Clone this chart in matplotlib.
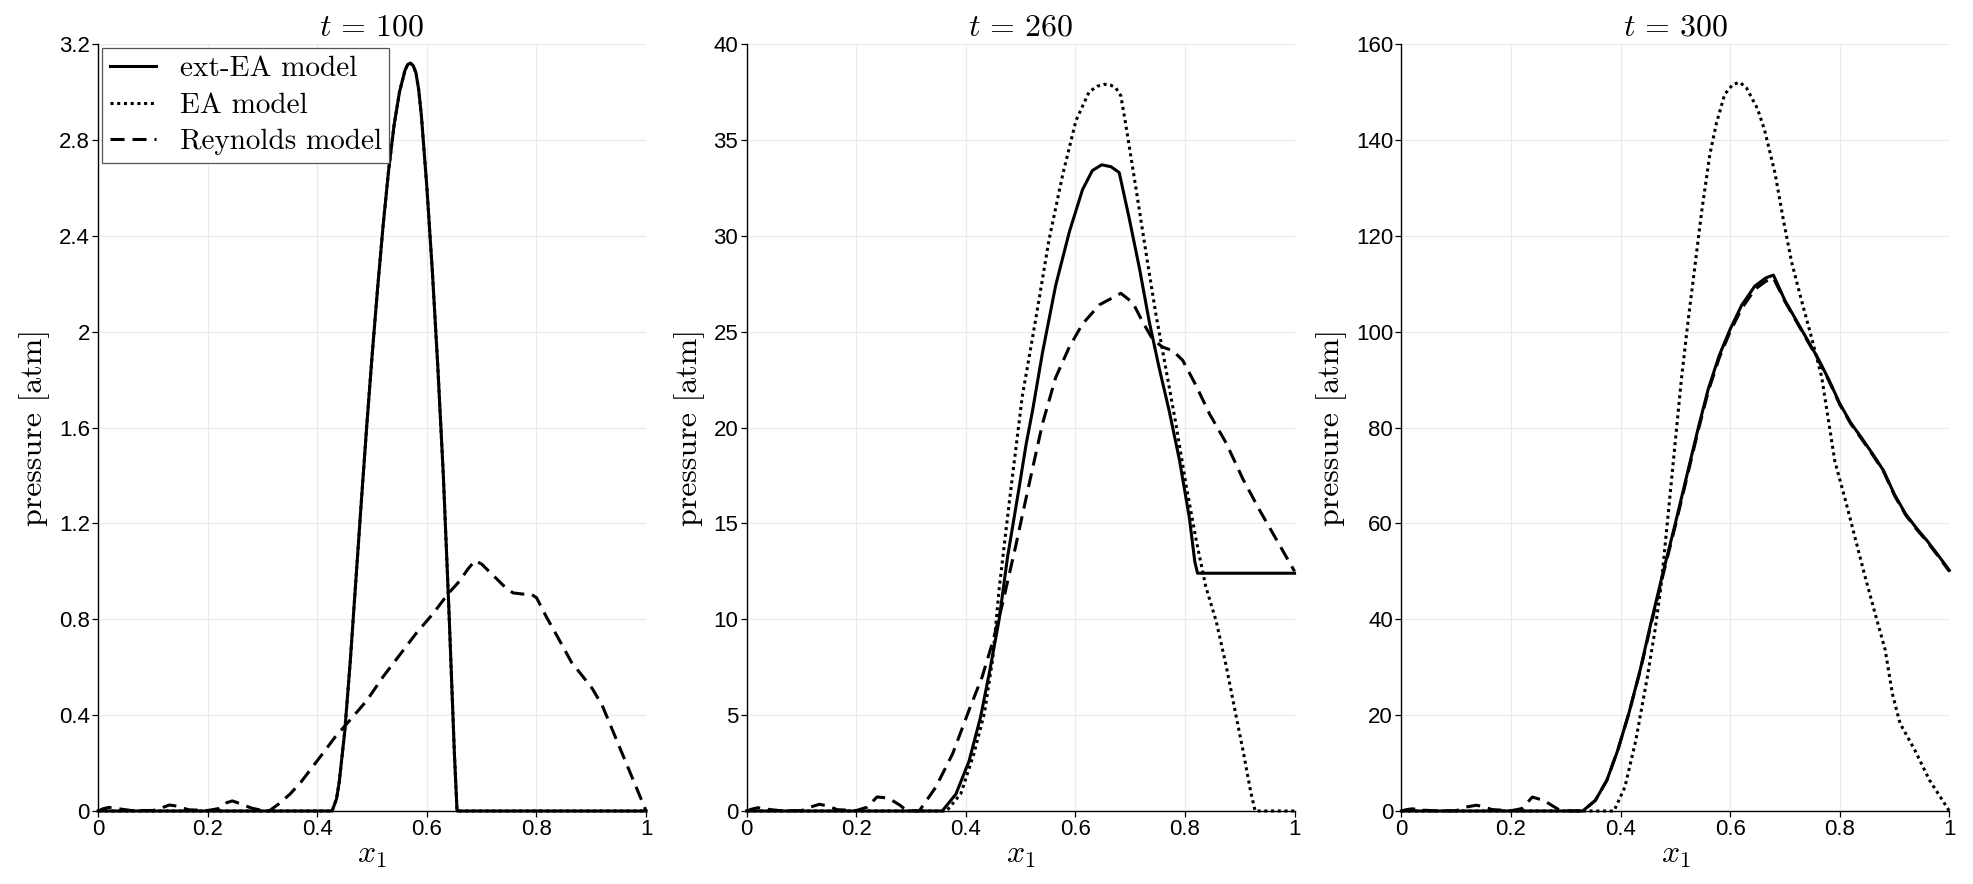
import matplotlib
matplotlib.use("Agg")
import matplotlib.pyplot as plt
from matplotlib.ticker import FuncFormatter

plt.rcParams['mathtext.fontset'] = 'cm'
plt.rcParams['font.family'] = ['Liberation Sans', 'DejaVu Sans']

# ---------------- data ----------------
titles = [r"$t\,=\,100$", r"$t\,=\,260$", r"$t\,=\,300$"]
labels = ["ext-EA model", "EA model", "Reynolds model"]
ylims = [3.2, 40, 160]
yticks = [[0, 0.4, 0.8, 1.2, 1.6, 2.0, 2.4, 2.8, 3.2],
          [0, 5, 10, 15, 20, 25, 30, 35, 40],
          [0, 20, 40, 60, 80, 100, 120, 140, 160]]
xticks = [0, 0.2, 0.4, 0.6, 0.8, 1.0]

# t = 100
ext100_x = [0, 0.427, 0.435, 0.44, 0.45, 0.46, 0.47, 0.48, 0.49, 0.50, 0.51, 0.52, 0.53,
            0.54, 0.55, 0.56, 0.565, 0.57, 0.575, 0.58, 0.585, 0.59, 0.60, 0.61, 0.62,
            0.63, 0.64, 0.645, 0.65, 0.655, 1.0]
ext100_y = [0, 0, 0.05, 0.12, 0.33, 0.62, 0.95, 1.28, 1.6, 1.9, 2.18, 2.44, 2.67,
            2.86, 3.0, 3.09, 3.115, 3.12, 3.11, 3.08, 3.01, 2.9, 2.6, 2.25, 1.85,
            1.4, 0.85, 0.55, 0.25, 0, 0]
ea100_x = [0, 0.427, 0.435, 0.44, 0.45, 0.46, 0.47, 0.48, 0.49, 0.50, 0.51, 0.52, 0.53,
           0.54, 0.55, 0.56, 0.565, 0.57, 0.575, 0.58, 0.585, 0.59, 0.60, 0.61, 0.62,
           0.63, 0.64, 0.645, 0.65, 0.655, 1.0]
ea100_y = [0, 0, 0.05, 0.12, 0.33, 0.62, 0.95, 1.28, 1.6, 1.9, 2.18, 2.44, 2.67,
           2.86, 3.0, 3.09, 3.115, 3.12, 3.11, 3.08, 3.01, 2.9, 2.6, 2.25, 1.85,
           1.4, 0.85, 0.55, 0.25, 0, 0]
rey100_x = [0, 0.01, 0.02, 0.035, 0.06, 0.1, 0.115, 0.13, 0.145, 0.165, 0.2, 0.22, 0.235,
            0.245, 0.26, 0.28, 0.3, 0.312, 0.33, 0.35, 0.37, 0.39, 0.41, 0.433, 0.46, 0.49,
            0.52, 0.55, 0.58, 0.61, 0.64, 0.66, 0.675, 0.688, 0.70, 0.72, 0.74, 0.757, 0.775,
            0.79, 0.80, 0.818, 0.84, 0.864, 0.885, 0.902, 0.92, 0.94, 0.96, 0.98, 1.0]
rey100_y = [0, 0.01, 0.015, 0.01, 0.002, 0.002, 0.012, 0.025, 0.02, 0.005, 0.002, 0.01, 0.035,
            0.042, 0.03, 0.012, 0.002, 0, 0.03, 0.07, 0.12, 0.18, 0.24, 0.31, 0.38, 0.46,
            0.56, 0.65, 0.74, 0.82, 0.91, 0.96, 1.01, 1.045, 1.03, 0.985, 0.94, 0.91, 0.905,
            0.905, 0.89, 0.81, 0.72, 0.62, 0.56, 0.51, 0.44, 0.33, 0.22, 0.11, 0]

# t = 260
ext260_x = [0, 0.357, 0.382, 0.406, 0.427, 0.443, 0.461, 0.476, 0.497, 0.51, 0.522, 0.54,
            0.564, 0.589, 0.613, 0.631, 0.648, 0.665, 0.68, 0.698, 0.717, 0.735, 0.753,
            0.771, 0.79, 0.808, 0.818, 0.823, 1.0]
ext260_y = [0, 0, 0.88, 2.6, 4.9, 7.2, 10.0, 13.2, 16.8, 19.1, 20.9, 23.9,
            27.4, 30.2, 32.4, 33.4, 33.7, 33.6, 33.3, 30.95, 28.3, 25.5, 23.1,
            20.9, 18.3, 15.3, 13.0, 12.4, 12.4]
ea260_x = [0, 0.365, 0.391, 0.415, 0.434, 0.449, 0.461, 0.479, 0.503, 0.528, 0.552, 0.577,
           0.601, 0.625, 0.64, 0.653, 0.665, 0.674, 0.683, 0.692, 0.711, 0.729, 0.747,
           0.765, 0.784, 0.802, 0.82, 0.838, 0.857, 0.875, 0.893, 0.907, 0.92, 0.928, 1.0]
ea260_y = [0, 0, 0.9, 3.0, 5.1, 7.9, 11.6, 16.0, 21.6, 25.7, 29.8, 33.2,
           36.0, 37.5, 37.8, 37.9, 37.85, 37.7, 37.3, 35.8, 32.4, 29.1, 25.9,
           23.1, 20.1, 17.0, 14.2, 11.7, 9.9, 7.6, 5.0, 3.0, 1.0, 0, 0]
rey260_x = [0, 0.01, 0.021, 0.035, 0.06, 0.1, 0.116, 0.133, 0.15, 0.165, 0.2, 0.22, 0.238,
            0.25, 0.263, 0.28, 0.29, 0.3, 0.315, 0.345, 0.376, 0.406, 0.43, 0.449, 0.467,
            0.491, 0.516, 0.54, 0.564, 0.589, 0.613, 0.644, 0.683, 0.705, 0.723, 0.741,
            0.759, 0.778, 0.796, 0.82, 0.845, 0.875, 0.906, 0.936, 0.966, 1.0]
rey260_y = [0, 0.1, 0.17, 0.1, 0.02, 0.02, 0.2, 0.35, 0.25, 0.07, 0.02, 0.2, 0.73,
            0.7, 0.6, 0.3, 0.07, 0.02, 0, 1.23, 2.98, 5.26, 7.0, 8.8, 10.8,
            13.8, 17.1, 20.2, 22.6, 24.2, 25.4, 26.4, 27.0, 26.5, 25.5, 24.6,
            24.2, 24.0, 23.5, 22.2, 20.7, 19.2, 17.3, 15.7, 14.2, 12.5]

# t = 300
ext300_x = [0, 0.331, 0.354, 0.375, 0.395, 0.415, 0.436, 0.455, 0.477, 0.50, 0.521, 0.542,
            0.56, 0.58, 0.60, 0.621, 0.645, 0.665, 0.679, 0.70, 0.72, 0.74, 0.76, 0.78,
            0.80, 0.82, 0.84, 0.86, 0.88, 0.90, 0.92, 0.94, 0.96, 0.98, 1.0]
ext300_y = [0, 0, 2.2, 6.4, 12.7, 20.3, 29.5, 39, 49.5, 60, 70, 80,
            88, 95, 100.5, 105.5, 109.5, 111.2, 111.8, 106.5, 102.5, 98.5, 94.5, 90.0,
            85.0, 81.0, 77.8, 74.5, 71.0, 66.0, 62.0, 59.0, 56.3, 53.3, 50.2]
ea300_x = [0, 0.388, 0.408, 0.428, 0.449, 0.463, 0.474, 0.487, 0.499, 0.511, 0.523, 0.535,
           0.548, 0.563, 0.575, 0.59, 0.605, 0.618, 0.63, 0.65, 0.663, 0.682, 0.697,
           0.712, 0.730, 0.749, 0.767, 0.779, 0.791, 0.810, 0.828, 0.846, 0.865, 0.883,
           0.896, 0.91, 0.937, 0.964, 1.0]
ea300_y = [0, 0, 5.0, 14.8, 28, 37.8, 47, 62, 76, 90, 102, 113,
           125, 137, 143.5, 149.5, 151.6, 152, 150.8, 146.5, 142.0, 133, 123.4,
           114.6, 106.6, 98.6, 90.6, 81.8, 73, 65, 57, 49, 41, 33.6,
           24.5, 18.3, 12.7, 6.4, 0]
rey300_x = [0, 0.01, 0.02, 0.035, 0.06, 0.1, 0.117, 0.137, 0.15, 0.165, 0.2, 0.22, 0.239,
            0.26, 0.287, 0.3, 0.331, 0.354, 0.375, 0.395, 0.415, 0.436, 0.455, 0.477, 0.50,
            0.521, 0.542, 0.56, 0.58, 0.60, 0.621, 0.645, 0.665, 0.679, 0.70, 0.72, 0.74,
            0.76, 0.78, 0.80, 0.82, 0.84, 0.86, 0.88, 0.90, 0.92, 0.94, 0.96, 0.98, 1.0]
rey300_y = [0, 0.3, 0.45, 0.2, 0.05, 0.05, 0.8, 1.2, 0.9, 0.3, 0.05, 0.5, 2.9,
            2.2, 0.3, 0.05, 0, 2.2, 6.4, 12.7, 20.3, 29.3, 38.6, 49, 59.5,
            69.5, 79.5, 87.5, 94.5, 100, 104.8, 108.8, 110.5, 111.2, 106.3, 102.3, 98.3,
            94.3, 89.8, 84.8, 80.8, 77.6, 74.3, 70.8, 65.8, 61.8, 58.8, 56.1, 53.1, 50.0]

panels = [
    (ext100_x, ext100_y, ea100_x, ea100_y, rey100_x, rey100_y),
    (ext260_x, ext260_y, ea260_x, ea260_y, rey260_x, rey260_y),
    (ext300_x, ext300_y, ea300_x, ea300_y, rey300_x, rey300_y),
]

# ---------------- figure ----------------
fig = plt.figure(figsize=(19.74, 8.84), dpi=100)
lefts = [0.0497, 0.3782, 0.7099]
w, b, h = 0.2776, 0.0826, 0.8676

lw = 2.2
fmt = FuncFormatter(lambda v, p: ('%g' % round(v, 6)))

for i, (ex, ey, ax_, ay, rx, ry) in enumerate(panels):
    ax = fig.add_axes([lefts[i], b, w, h])
    ax.set_axisbelow(True)
    ax.grid(True, color='#ebebeb', lw=0.9)
    ax.plot(ex, ey, color='black', lw=lw, ls='-', label=labels[0],
            solid_joinstyle='round', clip_on=False, zorder=3)
    ax.plot(ax_, ay, color='black', lw=lw, ls=(0, (1.0, 1.2)), label=labels[1],
            clip_on=False, zorder=3)
    ax.plot(rx, ry, color='black', lw=lw, ls=(0, (4.6, 2.6)), label=labels[2],
            clip_on=False, zorder=3)
    ax.set_xlim(0, 1)
    ax.set_ylim(0, ylims[i])
    ax.set_xticks(xticks)
    ax.set_yticks(yticks[i])
    ax.xaxis.set_major_formatter(fmt)
    ax.yaxis.set_major_formatter(fmt)
    for s in ['top', 'right']:
        ax.spines[s].set_visible(False)
    for s in ['left', 'bottom']:
        ax.spines[s].set_linewidth(1.0)
        ax.spines[s].set_color('black')
    ax.tick_params(direction='out', length=4, width=0.9, labelsize=16, pad=2,
                   colors='black')
    ax.set_title(titles[i], fontsize=23, pad=6)
    ax.set_xlabel('$x_1$', fontsize=23, labelpad=0)
    ax.set_ylabel('pressure [atm]', fontsize=23, family='cmr10', labelpad=6)
    if i == 0:
        leg = ax.legend(loc='upper left', bbox_to_anchor=(0.0, 1.0),
                        prop={'family': 'cmr10', 'size': 21},
                        fancybox=False, framealpha=1, edgecolor='#555555',
                        borderaxespad=0.15, handlelength=1.6, handletextpad=0.8,
                        labelspacing=0.35, borderpad=0.25)
        leg.get_frame().set_linewidth(0.9)
        leg.set_zorder(5)

fig.savefig('out.png', dpi=100)
